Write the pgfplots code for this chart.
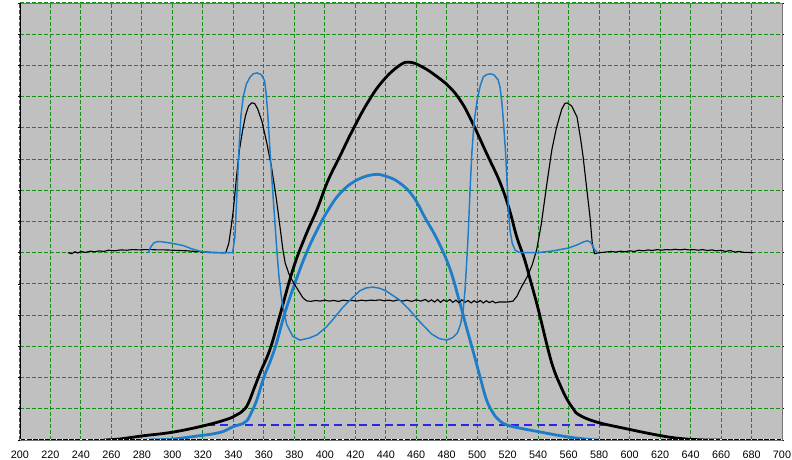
\documentclass[border=0pt]{standalone}
\usepackage{fontspec}
\setmainfont{Liberation Sans}
\usepackage{pgfplots}
\pgfplotsset{compat=1.18}
\definecolor{bggray}{RGB}{192,192,192}
\definecolor{gridgreen}{RGB}{20,145,20}
\definecolor{cblue}{RGB}{30,125,200}
\definecolor{dblue}{RGB}{40,40,230}
\begin{document}
\begin{tikzpicture}
\begin{axis}[
  scale only axis, width=571.5pt, height=327.75pt,
  at={(0,0)}, anchor=south west,
  xmin=200, xmax=700, ymin=0, ymax=14,
  xtick={200,220,...,700}, ytick={0,1,...,14}, yticklabels={},
  grid=major,
  major grid style={draw=gridgreen, dash pattern=on 3pt off 1.5pt, line width=0.75pt},
  axis background/.style={fill=bggray},
  axis line style={draw=gray!90!black, line width=0.6pt},
  tick label style={font=\fontsize{8.1}{9.5}\selectfont},
  xticklabel style={yshift=-3pt},
  /pgf/number format/assume math mode=true,
  /pgf/number format/1000 sep={},
  x tick style={draw=none},
  y tick style={black, line width=0.6pt},
  major tick length=1.8pt, tick align=outside,
]
% dashed blue
\addplot[dblue, line width=0.8pt, dash pattern=on 6pt off 3.5pt] coordinates {(323,0.48) (586,0.48)};
% thick black bell
\addplot[black, line width=2.1pt, smooth, tension=0.7] coordinates {
(255,0.0) (265,0.03) (280,0.13) (300,0.25) (320,0.45) (335,0.65) (342,0.8) (347,0.97)
(350,1.2) (354,1.7) (358,2.2) (364,2.9) (370,3.9) (379,5.45) (387,6.5) (395,7.4)
(402,8.3) (410,9.1) (418,9.9) (428,10.8) (438,11.5) (449,12.0) (456,12.1) (464,11.95)
(472,11.7) (482,11.3) (490,10.8) (497,10.15) (506,9.2) (515,8.25) (521,7.4) (526,6.5)
(531,5.8) (535,5.1) (540,4.2) (546,3.0) (550,2.3) (555,1.7) (559,1.3) (563,1.0)
(567,0.8) (578,0.58) (596,0.38) (618,0.16) (633,0.05) (650,0.0) (660,0.0)};
% thick blue bell
\addplot[cblue, line width=2.1pt, smooth, tension=0.7] coordinates {
(283,0.0) (300,0.03) (315,0.12) (331,0.24) (340,0.43) (346,0.52) (349,0.62) (352,0.9)
(355.5,1.3) (360,2.0) (367,2.9) (374,4.1) (381.7,5.2) (388,6.0) (395,6.73) (402,7.35)
(410,7.9) (420,8.3) (431.6,8.5) (440,8.45) (449,8.24) (458,7.8) (466,7.1) (474,6.4)
(482,5.5) (488,4.5) (493,3.6) (497,2.9) (502,2.0) (506,1.3) (510,0.9) (514,0.65)
(519.6,0.48) (530,0.36) (541,0.26) (553,0.15) (565.5,0.06) (578,0.0) (580,0.0)};
% thin black
\addplot[black, line width=0.85pt] coordinates {
(231.5,6.0) (234,5.97) (236,6.03) (238,5.99) (240,6.04) (243,6.01) (246,6.05) (249,6.03)
(252,6.06) (255,6.04) (258,6.08) (262,6.06) (266,6.09) (270,6.08) (274,6.1) (278,6.09)
(282,6.1) (286,6.1) (290,6.09) (295,6.09) (300,6.08) (305,6.07) (310,6.06) (315,6.04)
(320,6.03) (326,6.01) (332,6.0) (335,6.0) (337,6.3) (338.5,6.8) (340,7.37) (342,8.4)
(344,9.3) (346,9.9) (348,10.4) (350,10.7) (352,10.8) (354,10.78) (356,10.6) (358.8,10.2)
(362,9.5) (365,8.75) (368,7.8) (370.6,6.83) (372.5,6.1) (374,5.67) (377,5.25) (380,5.0)
(382.5,4.8) (385.7,4.55) (388,4.46) (391,4.44) (394,4.47) (397,4.45) (400,4.48) (403,4.45)
(406,4.47) (409,4.44) (412,4.48) (415,4.46) (418,4.47) (421,4.45) (424,4.48) (427,4.46)
(430,4.48) (433,4.47) (436,4.49) (439,4.46) (442,4.48) (445,4.45) (448,4.49) (451,4.45)
(454,4.48) (457,4.44) (460,4.49) (463,4.45) (466,4.5) (468,4.43) (470,4.49) (472,4.42)
(474,4.5) (476,4.41) (478,4.49) (480,4.43) (482,4.5) (484,4.41) (486,4.48) (488,4.4)
(490,4.49) (492,4.41) (494,4.47) (496,4.39) (498,4.46) (500,4.4) (502,4.47) (504,4.39)
(506,4.46) (508,4.4) (510,4.45) (512,4.39) (514,4.42) (517,4.42) (520,4.42) (523.5,4.45)
(526,4.6) (529,4.9) (532.7,5.22) (536,5.6) (539,6.09) (542,6.9) (545.8,8.24) (549,9.3)
(552,10.0) (555.5,10.6) (557.5,10.78) (559,10.8) (562,10.7) (565.5,10.35) (568,9.6) (569.5,9.07)
(572,8.0) (574,7.15) (575.5,6.3) (577,5.97) (580,6.0) (584,6.02) (588,6.04) (591,6.02)
(594,6.05) (597,6.03) (600,6.06) (603,6.04) (606,6.08) (609,6.06) (612,6.09) (615,6.07)
(618,6.1) (621,6.08) (624,6.1) (627,6.09) (630,6.11) (633,6.09) (636,6.11) (639,6.09)
(642,6.1) (645,6.08) (648,6.1) (651,6.07) (654,6.09) (657,6.06) (660,6.08) (663,6.04)
(666,6.07) (669,6.02) (672,6.04) (675,6.01) (678,6.01) (681,6.0)};
% thin blue
\addplot[cblue, line width=1.1pt] coordinates {
(284,6.0) (286,6.2) (288,6.32) (290.6,6.36) (293,6.35) (296,6.33) (301,6.29) (307,6.23)
(313,6.12) (318,6.05) (325,6.0) (339.5,6.0) (341,6.5) (342,7.5) (343,8.6) (344,9.6)
(345,10.4) (346.5,11.0) (348.5,11.4) (351,11.63) (353,11.73) (355.5,11.76) (358.5,11.7)
(360.5,11.5) (361.5,11.1) (362.5,10.5) (364,9.3) (365.5,8.2) (367,7.15) (368.5,6.1)
(370,5.2) (372,4.4) (375,3.7) (379,3.32) (383.7,3.2) (390,3.27) (395,3.37) (401,3.62)
(406,3.9) (412,4.26) (418,4.55) (423,4.78) (427,4.87) (431.6,4.9) (436,4.86) (440,4.78)
(449,4.49) (455,4.2) (462.5,3.78) (470,3.4) (475,3.25) (480,3.2) (484,3.28) (487,3.43)
(489,3.7) (490.7,4.1) (492,4.8) (493,5.6) (494.2,6.7) (495.3,8.0) (496.5,9.2) (498,10.2)
(500,10.9) (502,11.35) (504,11.63) (506,11.7) (508.4,11.73) (511,11.7) (513.7,11.54)
(515,11.3) (516,10.9) (517,10.35) (518.5,9.3) (519.6,8.24) (520.5,7.4) (521.5,6.73)
(523,6.3) (524.8,6.09) (527,6.02) (530,6.0) (539,6.0) (550,6.06) (560,6.15) (566,6.26)
(570,6.35) (572,6.38) (574,6.35) (575.5,6.25) (577,6.1) (579,6.0)};
% frame emphasis
\draw[black, line width=1.6pt] (axis cs:200,14) -- (axis cs:200,0) -- (axis cs:700,0);
\draw[white, line width=0.9pt, dash pattern=on 0.9pt off 3.672pt, dash phase=0.45pt] (axis cs:200,0) -- (axis cs:700,0);
\end{axis}
\pgfresetboundingbox
\path[use as bounding box] (-15pt,-15pt) rectangle (579pt,330pt);
\end{tikzpicture}
\end{document}
